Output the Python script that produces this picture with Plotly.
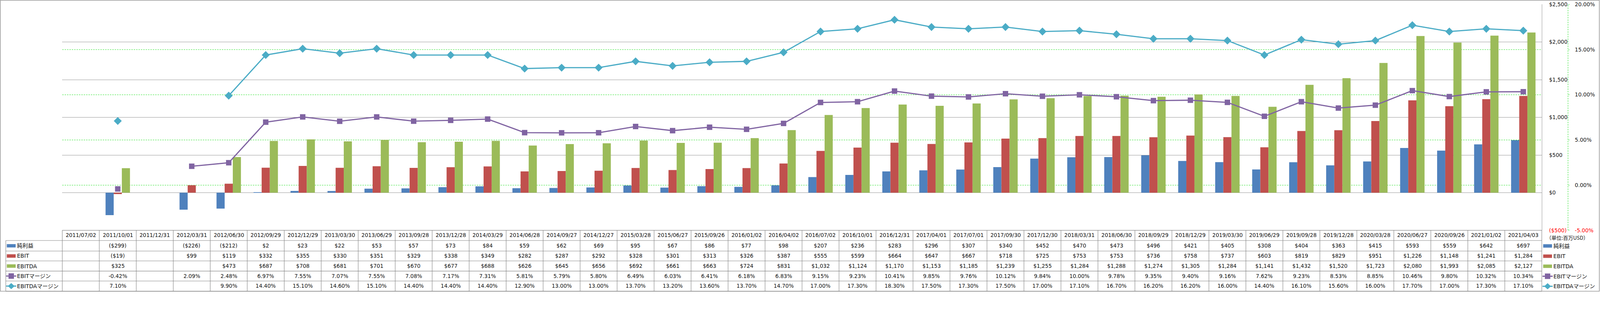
import plotly.graph_objects as go

# ---------------- data ----------------
dates = ["2011/07/02", "2011/10/01", "2011/12/31", "2012/03/31", "2012/06/30", "2012/09/29",
         "2012/12/29", "2013/03/30", "2013/06/29", "2013/09/28", "2013/12/28", "2014/03/29",
         "2014/06/28", "2014/09/27", "2014/12/27", "2015/03/28", "2015/06/27", "2015/09/26",
         "2016/01/02", "2016/04/02", "2016/07/02", "2016/10/01", "2016/12/31", "2017/04/01",
         "2017/07/01", "2017/09/30", "2017/12/30", "2018/03/31", "2018/06/30", "2018/09/29",
         "2018/12/29", "2019/03/30", "2019/06/29", "2019/09/28", "2019/12/28", "2020/03/28",
         "2020/06/27", "2020/09/26", "2021/01/02", "2021/04/03"]

net_income = [None, -299, None, -226, -212, 2, 23, 22, 53, 57, 73, 84, 59, 62, 69, 95, 67, 86,
              77, 98, 207, 236, 283, 296, 307, 340, 452, 470, 473, 496, 421, 405, 308, 404,
              363, 415, 593, 559, 642, 697]
ebit = [None, -19, None, 99, 119, 332, 355, 330, 351, 329, 338, 349, 282, 287, 292, 328, 301,
        313, 326, 387, 555, 599, 664, 647, 667, 718, 725, 753, 753, 736, 758, 737, 603, 819,
        829, 951, 1226, 1148, 1241, 1284]
ebitda = [None, 325, None, None, 473, 687, 708, 681, 701, 670, 677, 688, 626, 645, 656, 692,
          661, 663, 724, 831, 1032, 1124, 1170, 1153, 1185, 1239, 1255, 1284, 1288, 1274, 1305,
          1284, 1141, 1432, 1520, 1723, 2080, 1993, 2085, 2127]
ebit_margin = [None, -0.42, None, 2.09, 2.48, 6.97, 7.55, 7.07, 7.55, 7.08, 7.17, 7.31, 5.81,
               5.79, 5.80, 6.49, 6.03, 6.41, 6.18, 6.83, 9.15, 9.23, 10.41, 9.85, 9.76, 10.12,
               9.84, 10.00, 9.78, 9.35, 9.40, 9.16, 7.62, 9.23, 8.53, 8.85, 10.46, 9.80, 10.32,
               10.34]
ebitda_margin = [None, 7.10, None, None, 9.90, 14.40, 15.10, 14.60, 15.10, 14.40, 14.40, 14.40,
                 12.90, 13.00, 13.00, 13.70, 13.20, 13.60, 13.70, 14.70, 17.00, 17.30, 18.30,
                 17.50, 17.30, 17.50, 17.00, 17.10, 16.70, 16.20, 16.20, 16.00, 14.40, 16.10,
                 15.60, 16.00, 17.70, 17.00, 17.30, 17.10]

series_names = ["純利益", "EBIT", "EBITDA", "EBITマージン", "EBITDAマージン"]
usd_ticks = [-500, 0, 500, 1000, 1500, 2000, 2500]
pct_ticks = [-5, 0, 5, 10, 15, 20]
unit_label = "（単位:百万USD）"

# ---------------- styles ----------------
C_BLUE, C_RED, C_GREEN = "#4F81BD", "#C0504D", "#9BBB59"
C_PURPLE, C_CYAN = "#8064A2", "#4BACC6"
GRID = "#878787"
DASH_GREEN = "#1EE01E"
FONT = "DejaVu Sans, Noto Sans CJK JP, sans-serif"
TXT = "#111111"

W, H = 4701, 858
PL, PR_PLOT, PR_PAPER = 183, 4530, 4607
PT, PB = 13, 677
paper_w = PR_PAPER - PL
paper_h = PB - PT


def px(x):
    return (x - PL) / paper_w


def py(y):
    return (PB - y) / paper_h


def fmt_usd(v):
    if v is None:
        return None
    return "(${:,})".format(-v) if v < 0 else "${:,}".format(v)


def fmt_pct(v):
    if v is None:
        return None
    return "{:.2f}%".format(v)


fig = go.Figure()
bar_series = [(net_income, C_BLUE), (ebit, C_RED), (ebitda, C_GREEN)]
for (vals, col), name in zip(bar_series, series_names[:3]):
    fig.add_trace(go.Bar(x=dates, y=vals, name=name, marker=dict(color=col, line=dict(width=0)),
                         yaxis="y", showlegend=False))

fig.add_trace(go.Scatter(x=dates, y=ebit_margin, name=series_names[3], yaxis="y2",
                         mode="lines+markers", connectgaps=False,
                         line=dict(color=C_PURPLE, width=3.5),
                         marker=dict(symbol="square", size=16, color=C_PURPLE),
                         showlegend=False))
fig.add_trace(go.Scatter(x=dates, y=ebitda_margin, name=series_names[4], yaxis="y2",
                         mode="lines+markers", connectgaps=False,
                         line=dict(color=C_CYAN, width=3.5),
                         marker=dict(symbol="diamond", size=18, color=C_CYAN),
                         showlegend=False))

usd_text = []
for v in usd_ticks:
    s = fmt_usd(v)
    usd_text.append('<span style="color:#FF0000">' + s + '</span>' if v < 0 else s)
pct_text = []
for v in pct_ticks:
    s = fmt_pct(v)
    pct_text.append('<span style="color:#FF0000">' + s + '</span>' if v < 0 else s)

shapes = []
annotations = []

for v in pct_ticks[1:-1]:
    shapes.append(dict(type="line", xref="paper", yref="y2", x0=0, x1=(PR_PLOT - PL) / paper_w,
                       y0=v, y1=v,
                       line=dict(color=DASH_GREEN, width=1.2, dash="4px,3px"), layer="below"))
shapes.append(dict(type="line", xref="paper", yref="paper", x0=1, x1=1, y0=0, y1=1,
                   line=dict(color=DASH_GREEN, width=1.2, dash="4px,3px")))

shapes.append(dict(type="rect", xref="paper", yref="paper", x0=px(1), x1=px(4699),
                   y0=py(856), y1=py(1), line=dict(color=GRID, width=1.5)))

# ---------------- data table ----------------
row_edges = [677, 707, 738, 767, 797, 826, 856]
n = len(dates)
LINE = dict(color=GRID, width=1.3)
col_w = (PR_PLOT - PL) / n
shapes.append(dict(type="line", xref="paper", yref="paper", x0=px(PL), x1=px(PR_PLOT),
                   y0=py(row_edges[0]), y1=py(row_edges[0]), line=LINE))
for e in row_edges[1:]:
    shapes.append(dict(type="line", xref="paper", yref="paper", x0=px(17), x1=px(PR_PLOT),
                       y0=py(e), y1=py(e), line=LINE))
shapes.append(dict(type="line", xref="paper", yref="paper", x0=px(17), x1=px(17),
                   y0=py(row_edges[1]), y1=py(row_edges[-1]), line=LINE))
for i in range(n + 1):
    xe = px(PL + i * col_w)
    shapes.append(dict(type="line", xref="paper", yref="paper", x0=xe, x1=xe,
                       y0=py(row_edges[0]), y1=py(row_edges[-1]), line=LINE))

centers = [(row_edges[k] + row_edges[k + 1]) / 2 for k in range(6)]
TFONT = dict(family=FONT, size=15.5, color=TXT)
for i, d in enumerate(dates):
    annotations.append(dict(x=d, xref="x", y=py(centers[0]), yref="paper", text=d,
                            showarrow=False, font=TFONT, xanchor="center", yanchor="middle"))
rows = [[fmt_usd(v) for v in net_income], [fmt_usd(v) for v in ebit],
        [fmt_usd(v) for v in ebitda], [fmt_pct(v) for v in ebit_margin],
        [fmt_pct(v) for v in ebitda_margin]]
for r, vals in enumerate(rows):
    for i, s in enumerate(vals):
        if s is None:
            continue
        annotations.append(dict(x=dates[i], xref="x", y=py(centers[r + 1]), yref="paper",
                                text=s, showarrow=False, font=TFONT, xanchor="center",
                                yanchor="middle"))


def legend_key(xl, yc, kind, color):
    if kind == "bar":
        shapes.append(dict(type="rect", xref="paper", yref="paper", x0=px(xl + 2),
                           x1=px(xl + 28), y0=py(yc + 5), y1=py(yc - 5),
                           fillcolor=color, line=dict(width=0)))
    else:
        shapes.append(dict(type="line", xref="paper", yref="paper", x0=px(xl), x1=px(xl + 30),
                           y0=py(yc), y1=py(yc), line=dict(color=color, width=3.5)))
        cx = xl + 15
        if kind == "square":
            shapes.append(dict(type="rect", xref="paper", yref="paper", x0=px(cx - 8),
                               x1=px(cx + 8), y0=py(yc + 8), y1=py(yc - 8),
                               fillcolor=color, line=dict(width=0)))
        else:
            path = "M {},{} L {},{} L {},{} L {},{} Z".format(
                px(cx - 10), py(yc), px(cx), py(yc - 9), px(cx + 10), py(yc),
                px(cx), py(yc + 9))
            shapes.append(dict(type="path", xref="paper", yref="paper", path=path,
                               fillcolor=color, line=dict(width=0)))


kinds = [("bar", C_BLUE), ("bar", C_RED), ("bar", C_GREEN), ("square", C_PURPLE),
         ("diamond", C_CYAN)]
LFONT = dict(family=FONT, size=16, color=TXT)
for k, ((kind, col), name) in enumerate(zip(kinds, series_names)):
    yc = centers[k + 1]
    legend_key(18, yc, kind, col)
    annotations.append(dict(x=px(48), xref="paper", y=py(yc), yref="paper", text=name,
                            showarrow=False, font=LFONT, xanchor="left", yanchor="middle"))
    legend_key(4532, yc + 0.5, kind, col)
    annotations.append(dict(x=px(4562), xref="paper", y=py(yc + 0.5), yref="paper", text=name,
                            showarrow=False, font=LFONT, xanchor="left", yanchor="middle"))

annotations.append(dict(x=px(4541), xref="paper", y=py(698), yref="paper", text=unit_label,
                        showarrow=False, font=dict(family="Noto Sans CJK JP", size=15, color=TXT),
                        xanchor="left", yanchor="middle"))

fig.update_layout(
    width=W, height=H, autosize=False,
    margin=dict(l=PL, r=W - PR_PAPER, t=PT, b=H - PB, pad=0, autoexpand=False),
    paper_bgcolor="white", plot_bgcolor="rgba(0,0,0,0)",
    barmode="group", bargap=0.34, bargroupgap=0,
    font=dict(family=FONT, size=15.5, color=TXT),
    showlegend=False,
    xaxis=dict(type="category", range=[-0.5, n - 0.5],
               domain=[0, (PR_PLOT - PL) / paper_w], automargin=False,
               showticklabels=False, showgrid=False, zeroline=False, showline=False),
    yaxis=dict(range=[usd_ticks[0], usd_ticks[-1]], side="right", tickmode="array",
               tickvals=usd_ticks, ticktext=usd_text, showgrid=True, gridcolor=GRID,
               gridwidth=1.3, zeroline=False, showline=True, linecolor=GRID, linewidth=1.3,
               ticks="", ticklabelstandoff=17, automargin=False,
               tickfont=dict(family=FONT, size=15.5, color=TXT)),
    yaxis2=dict(range=[pct_ticks[0], pct_ticks[-1]], overlaying="y", anchor="free",
                position=1, side="right", tickmode="array", tickvals=pct_ticks,
                ticktext=pct_text, showgrid=False, zeroline=False, showline=False,
                ticks="outside", ticklen=4, tickcolor=DASH_GREEN, tickwidth=1.2,
                ticklabelstandoff=12, automargin=False,
                tickfont=dict(family=FONT, size=15.5, color=TXT)),
    shapes=shapes,
    annotations=annotations,
)

# fit the fixed-size figure into the actual browser viewport
fit_js = (
    "document.body.style.margin='0';"
    "document.body.style.overflow='hidden';"
    "var gd=document.getElementById('{plot_id}');"
    "var s=Math.min(window.innerWidth/" + str(W) + ", window.innerHeight/" + str(H) + ");"
    "if(s>0 && Math.abs(s-1)>0.001){gd.style.transformOrigin='0 0';"
    "gd.style.transform='scale('+s+')';}"
)

fig.write_html("out.html", config={"responsive": False, "displayModeBar": False},
               post_script=fit_js)
